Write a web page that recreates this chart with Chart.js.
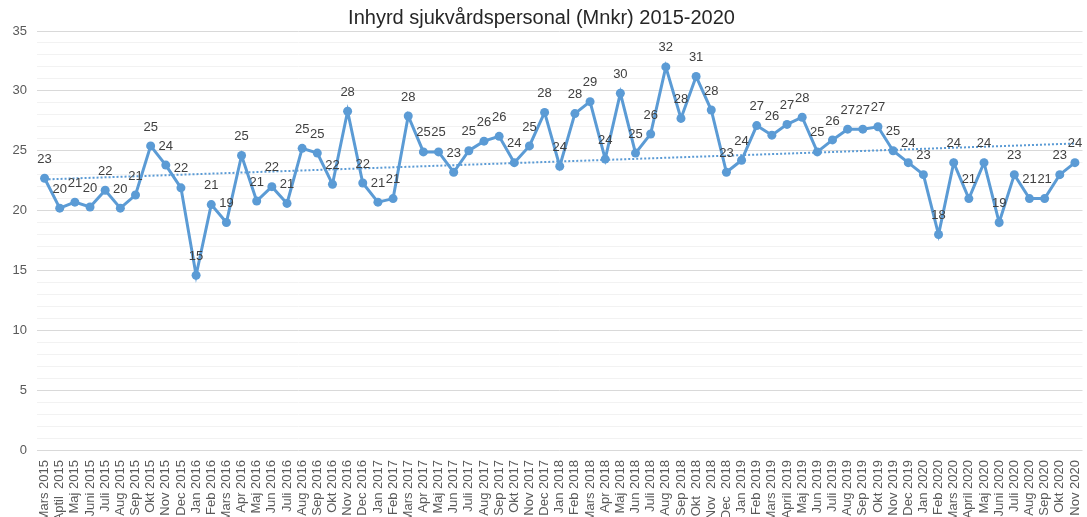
<!DOCTYPE html>
<html>
<head>
<meta charset="utf-8">
<script src="https://cdn.jsdelivr.net/npm/chart.js@4"></script>
<style>
  body { margin: 0; background: #fff; }
  #wrap { width: 1087px; height: 517px; position: relative; }
</style>
</head>
<body>
<div id="wrap"><canvas id="costChart"></canvas></div>
<script>
//month labels, as written on the axis
const months = [
  "Mars 2015", "Aptil  2015", "Maj 2015", "Juni 2015", "Juli 2015", "Aug 2015", "Sep 2015", "Okt 2015", "Nov 2015", "Dec 2015",
  "Jan 2016", "Feb 2016", "Mars 2016", "Apr 2016", "Maj 2016", "Jun 2016", "Juli 2016", "Aug 2016", "Sep 2016", "Okt 2016", "Nov 2016", "Dec 2016",
  "Jan 2017", "Feb 2017", "Mars 2017", "Apr 2017", "Maj 2017", "Jun 2017", "Juli 2017", "Aug 2017", "Sep 2017", "Okt 2017", "Nov 2017", "Dec 2017",
  "Jan 2018", "Feb 2018", "Mars 2018", "Apr 2018", "Maj 2018", "Jun 2018", "Juli 2018", "Aug 2018", "Sep 2018", "Okt  2018", "Nov  2018", "Dec  2018",
  "Jan 2019", "Feb 2019", "Mars 2019", "April 2019", "Maj 2019", "Jun 2019", "Juli 2019", "Aug 2019", "Sep 2019", "Okt 2019", "Nov 2019", "Dec 2019",
  "Jan 2020", "Feb 2020", "Mars 2020", "April 2020", "Maj 2020", "Juni 2020", "Juli 2020", "Aug 2020", "Sep 2020", "Okt 2020", "Nov 2020"
];

//monthly cost in Mnkr
const costs = [
  22.7, 20.2, 20.7, 20.3, 21.7, 20.2, 21.3, 25.4, 23.8, 21.9,
  14.6, 20.5, 19.0, 24.6, 20.8, 22.0, 20.6, 25.2, 24.8, 22.2, 28.3, 22.3,
  20.7, 21.0, 27.9, 24.9, 24.9, 23.2, 25.0, 25.8, 26.2, 24.0, 25.4, 28.2,
  23.7, 28.1, 29.1, 24.3, 29.8, 24.8, 26.4, 32.0, 27.7, 31.2, 28.4, 23.2,
  24.2, 27.1, 26.3, 27.2, 27.8, 24.9, 25.9, 26.8, 26.8, 27.0, 25.0, 24.0,
  23.0, 18.0, 24.0, 21.0, 24.0, 19.0, 23.0, 21.0, 21.0, 23.0, 24.0
];

//linear trend line, value at first and last month
const trendEnds = [22.6, 25.6];

//y axis range
const yMin = 0;
const yMax = 35;

const blue = "#5B9BD5";

//trend data: only the two ends, the line spans the gap
const trend = months.map((m, i) =>
  i === 0 ? trendEnds[0] : (i === months.length - 1 ? trendEnds[1] : null)
);

//draws the rounded value above each point
const valueLabels = {
  id: "valueLabels",
  afterDatasetsDraw(chart) {
    const ctx = chart.ctx;
    const meta = chart.getDatasetMeta(1);
    ctx.save();
    ctx.font = "13px 'Liberation Sans', Arial, sans-serif";
    ctx.fillStyle = "#404040";
    ctx.textAlign = "center";
    ctx.textBaseline = "middle";
    meta.data.forEach((pt, i) => {
      ctx.fillText(Math.round(costs[i]), pt.x, pt.y - 19);
    });
    ctx.restore();
  }
};

new Chart(document.getElementById("costChart"), {
  type: "line",

  data: {
    labels: months,

    datasets: [
      {
        label: "Trend",
        data: trend,
        borderColor: blue,
        borderWidth: 2,
        borderDash: [2, 2],
        pointRadius: 0,
        spanGaps: true,
        fill: false
      },
      {
        label: "Inhyrd sjukvårdspersonal",
        data: costs,
        borderColor: blue,
        backgroundColor: blue,
        borderWidth: 3,
        pointRadius: 4.5,
        pointBackgroundColor: blue,
        pointBorderWidth: 0,
        tension: 0,
        fill: false
      }
    ]
  },

  options: {
    responsive: true,
    maintainAspectRatio: false,
    animation: false,
    layout: { padding: { left: 0, right: 4, top: 0, bottom: 0 } },

    plugins: {
      legend: { display: false },
      tooltip: { enabled: false },
      title: {
        display: true,
        text: "Inhyrd sjukvårdspersonal (Mnkr) 2015-2020",
        color: "#262626",
        font: { family: "'Liberation Sans', Arial, sans-serif", size: 20, weight: "normal" },
        padding: { top: 6, bottom: 1 }
      }
    },

    scales: {
      x: {
        offset: true,
        grid: { display: false },
        border: { display: false },
        ticks: {
          autoSkip: false,
          maxRotation: 90,
          minRotation: 90,
          padding: 2,
          color: "#595959",
          font: { family: "'Liberation Sans', Arial, sans-serif", size: 13 }
        },
        afterFit(scale) {
          scale.height = 67;
          scale.paddingLeft = 0;
          scale.paddingRight = 0;
        }
      },
      y: {
        min: yMin,
        max: yMax,
        border: { display: false },
        grid: {
          drawTicks: false,
          color: c => (c.tick.value % 5 === 0 ? "#d9d9d9" : "#f2f2f2"),
          lineWidth: 1
        },
        ticks: {
          stepSize: 1,
          autoSkip: false,
          padding: 10,
          color: "#595959",
          font: { family: "'Liberation Sans', Arial, sans-serif", size: 13 },
          callback: v => (v % 5 === 0 ? v : "")
        },
        afterFit(scale) { scale.width = 37; }
      }
    }
  },

  plugins: [valueLabels]
});
</script>
</body>
</html>
